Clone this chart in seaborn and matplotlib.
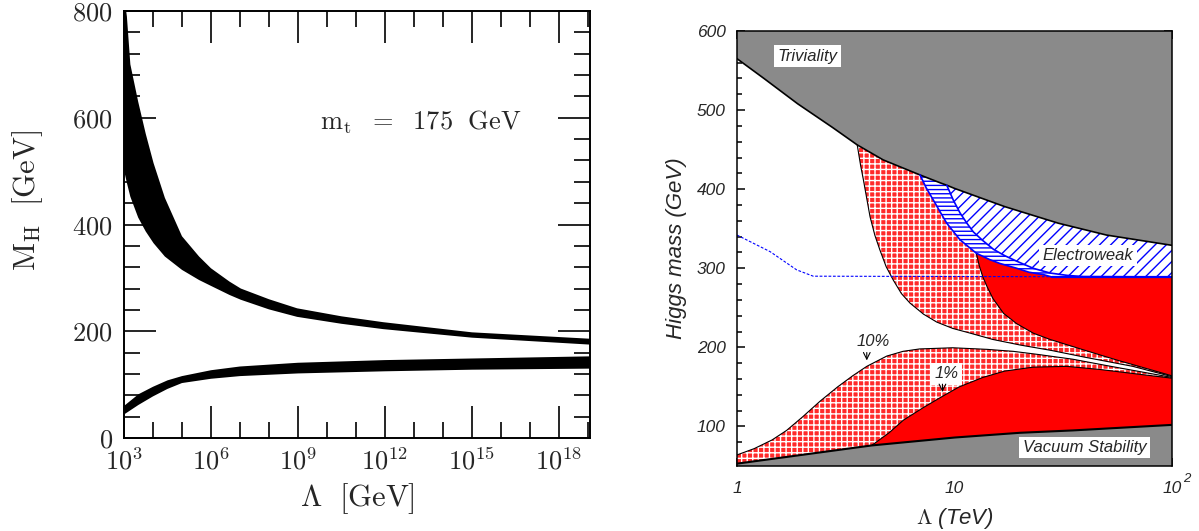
import numpy as np
import matplotlib
matplotlib.use("Agg")
import matplotlib.pyplot as plt
import matplotlib.ticker as mticker
import seaborn as sns

# ---------------- left panel: M_H bands vs Lambda (GeV), m_t = 175 GeV ----------------
# upper (triviality) band, log10(Lambda) and both edges
up_exp = [3.0, 3.1, 3.22, 3.49, 3.75, 4.02, 4.41, 5.0, 5.59, 6.0, 6.64, 7.03, 8.0, 8.97, 10.5, 11.94, 15.0, 19.07]
up_top = [830, 790, 700, 630, 570, 515, 450, 378, 340, 318, 293, 280, 260, 243, 228, 217, 198, 186]
up_bot = [502, 478, 452, 413, 387, 365, 340, 315, 296, 285, 268, 259, 241, 227, 214, 204, 188, 175]
# lower (vacuum stability) band
lo_exp = [3.0, 3.5, 4.0, 4.5, 5.0, 6.0, 7.0, 9.0, 12.0, 15.0, 19.07]
lo_top = [60, 82, 96, 108, 116, 127, 134, 141, 146, 149, 153]
lo_bot = [44, 62, 78, 92, 103, 111, 116, 121, 125, 128, 130]
left_xticks = [3, 6, 9, 12, 15, 18]
left_yticks = [0, 200, 400, 600, 800]

# ---------------- right panel: Lambda (TeV) vs Higgs mass (GeV) ----------------
triv_lam = [1, 1.33, 1.9, 2.75, 3.57, 4.7, 6.94, 8.6, 9.21, 10, 17, 30, 50, 100]
triv_mh = [565, 540, 508, 478, 456, 437, 418, 408, 405, 401, 378, 357, 342, 329]
vac_lam = [1, 4.16, 10, 20, 35, 100]
vac_mh = [53, 76, 86, 92, 95, 102]
low10_lam = [1, 1.2, 1.45, 1.69, 2.0, 2.41, 2.9, 3.4, 3.95, 4.88, 5.8, 6.9, 9.8, 14.1, 18.6, 24.3, 35, 50, 100]
low10_mh = [64, 72, 83, 95, 112, 132, 150, 164, 176, 189, 195, 198, 199.5, 197.5, 195, 191, 185, 177, 162]
low1_lam = [4.16, 5.0, 5.82, 7.2, 8.79, 10.5, 13.5, 17, 23, 32.8, 46.8, 66, 100]
low1_mh = [76, 92, 108, 124, 138, 150, 162, 170, 175, 176, 172, 167, 161]
up10_lam = [3.57, 3.7, 3.81, 3.95, 4.09, 4.3, 4.54, 4.85, 5.23, 5.7, 6.24, 7.2, 8.28, 9.8, 11.8, 15, 20, 28, 39, 66, 100]
up10_mh = [456, 430, 412, 388, 365, 342, 323, 302, 285, 268, 256, 242, 232, 224, 218, 210, 203, 196, 188, 176, 163]
up1_lam = [12.6, 13.0, 13.5, 14.1, 15, 16.8, 19.3, 23, 27.5, 39, 55.7, 100]
up1_mh = [319, 303, 289, 277, 262, 243, 230, 218, 210, 197, 184, 164]
ew_in_lam = [6.94, 7.4, 8.0, 8.6, 9.21, 10.6, 12.6, 14.5, 16.2, 19.3, 22, 25.6, 28]
ew_in_mh = [418, 402, 386, 371, 357, 336, 319, 311, 306, 300, 295, 292, 289]
ew_mid_lam = [9.21, 9.88, 10.6, 11.4, 12.2, 13.5, 15.1, 17, 19.3, 23, 27.5, 33, 39, 100]
ew_mid_mh = [405, 386, 370, 357, 346, 335, 324, 316, 309, 300, 294, 291, 289.5, 289]
ew_floor_lam = [28, 100]
ew_floor_mh = [289, 289]
dash_lam = [1, 1.42, 1.88, 2.24, 100]
dash_mh = [342, 321, 298, 290, 289]

sns.set_theme(style="ticks")
plt.rcParams["font.family"] = ["Liberation Sans", "DejaVu Sans"]
plt.rcParams["mathtext.fontset"] = "cm"
plt.rcParams["hatch.linewidth"] = 1.0
plt.rcParams["axes.linewidth"] = 1.4

fig = plt.figure(figsize=(11.99, 5.31), dpi=100)

# ===== left panel =====
ax1 = fig.add_axes([0.1034, 0.1751, 0.3887, 0.8042])
ax1.set_xscale("log")
ux = 10 ** np.array(up_exp)
ax1.fill(np.r_[ux, ux[::-1]], np.r_[up_top, up_bot[::-1]], color="black", lw=0)
lx = 10 ** np.array(lo_exp)
ax1.fill(np.r_[lx, lx[::-1]], np.r_[lo_top, lo_bot[::-1]], color="black", lw=0)
ax1.set_xlim(1e3, 10 ** 19.07)
ax1.set_ylim(0, 800)
ax1.set_xticks([10.0 ** e for e in left_xticks], [r"$10^{%d}$" % e for e in left_xticks], fontsize=19)
ax1.xaxis.set_minor_locator(mticker.LogLocator(base=10, subs=[1.0], numticks=30))
ax1.xaxis.set_minor_formatter(mticker.NullFormatter())
ax1.set_yticks(left_yticks, [r"$%d$" % v for v in left_yticks], fontsize=19)
ax1.yaxis.set_minor_locator(mticker.MultipleLocator(40))
ax1.tick_params(which="both", direction="in", top=True, right=True, width=1.2, color="black")
ax1.tick_params(which="major", length=23)
ax1.tick_params(which="minor", length=11.5)
ax1.tick_params(axis="y", pad=8)
ax1.tick_params(axis="x", pad=7)
for s in ax1.spines.values():
    s.set_color("black")
ax1.set_ylabel(r"$\mathrm{M_H\ \ [GeV]}$", fontsize=22)
ax1.yaxis.set_label_coords(-0.17, 0.557)
ax1.set_xlabel(r"$\Lambda\ \ \mathrm{[GeV]}$", fontsize=22)
ax1.xaxis.set_label_coords(0.5, -0.1)
ax1.text(10 ** 9.76, 592, r"$\mathrm{m_t\ \ =\ \ 175\ \ GeV}$", fontsize=19, va="center", ha="left")

# ===== right panel =====
ax2 = fig.add_axes([0.6147, 0.1224, 0.3628, 0.8192])
ax2.set_xscale("log")
GRAY = "#8a8a8a"
LRED = "#ff2a2a"
DRED = "#ff0000"

# light red (10%) lower and upper regions
ax2.fill(low10_lam + vac_lam[::-1], low10_mh + vac_mh[::-1], facecolor=LRED,
         edgecolor="white", hatch="+++", lw=0, zorder=1)
ax2.fill(up10_lam + [100, 3.57], up10_mh + [600, 600], facecolor=LRED,
         edgecolor="white", hatch="+++", lw=0, zorder=1)
# electroweak hatched bands
ax2.fill(ew_in_lam + [100, 100, 6.94], ew_in_mh + [289, 600, 600], facecolor="white",
         edgecolor="blue", hatch="----", lw=0, zorder=2)
ax2.fill(ew_mid_lam + [100, 9.21], ew_mid_mh + [600, 600], facecolor="white",
         edgecolor="blue", hatch="///", lw=0, zorder=3)
# dark red (1%) regions
k = ew_in_lam.index(12.6)
ax2.fill(up1_lam + [100] + ew_in_lam[k:][::-1], up1_mh + [289] + ew_in_mh[k:][::-1],
         facecolor=DRED, lw=0, zorder=4)
ax2.fill(low1_lam + vac_lam[:0:-1], low1_mh + vac_mh[:0:-1], facecolor=DRED, lw=0, zorder=4)
# excluded gray regions
ax2.fill(triv_lam + [100, 1], triv_mh + [600, 600], facecolor=GRAY, lw=0, zorder=5)
ax2.fill(vac_lam + [100, 1], vac_mh + [50, 50], facecolor=GRAY, lw=0, zorder=5)

# boundary lines
for lam, mh, c, w in [(low10_lam, low10_mh, "black", 0.8), (low1_lam, low1_mh, "black", 0.8),
                      (up10_lam, up10_mh, "black", 0.8), (up1_lam, up1_mh, "black", 0.8),
                      (triv_lam, triv_mh, "black", 1.2), (vac_lam, vac_mh, "black", 1.5),
                      (ew_in_lam, ew_in_mh, "blue", 1.2), (ew_mid_lam, ew_mid_mh, "blue", 1.2),
                      (ew_floor_lam, ew_floor_mh, "blue", 1.6)]:
    sns.lineplot(x=lam, y=mh, color=c, lw=w, ax=ax2, zorder=6, sort=False)
sns.lineplot(x=dash_lam, y=dash_mh, color="blue", lw=0.8, ax=ax2, zorder=6, sort=False,
             dashes=False, linestyle=(0, (2.5, 1.5)))

ax2.set_xlim(1, 100)
ax2.set_ylim(50, 600)
ax2.set_xticks([1, 10, 100], ["1", "10", "10"], fontsize=12.5, fontstyle="italic")
ax2.xaxis.set_minor_locator(mticker.LogLocator(base=10, subs=np.arange(2, 10), numticks=20))
ax2.xaxis.set_minor_formatter(mticker.NullFormatter())
ax2.annotate("2", xy=(100, 50), xytext=(8, -9), textcoords="offset points",
             fontsize=9.5, fontstyle="italic", ha="left", va="center", annotation_clip=False)
ax2.set_yticks([100, 200, 300, 400, 500, 600], ["100", "200", "300", "400", "500", "600"],
               fontsize=12.5, fontstyle="italic")
ax2.yaxis.set_minor_locator(mticker.MultipleLocator(20))
ax2.tick_params(which="both", direction="in", top=True, right=True, width=1.1, color="black")
ax2.tick_params(which="major", length=6)
ax2.tick_params(which="minor", length=3.5)
ax2.tick_params(axis="y", pad=8)
ax2.tick_params(axis="x", pad=11)
for s in ax2.spines.values():
    s.set_color("black")
    s.set_linewidth(1.1)
    s.set_zorder(10)
ax2.set_ylabel("Higgs mass (GeV)", fontsize=16, fontstyle="italic")
ax2.yaxis.set_label_coords(-0.115, 0.5)
ax2.set_xlabel(r"$\Lambda$ (TeV)", fontsize=16, fontstyle="italic")
ax2.xaxis.set_label_coords(0.5, -0.092)

box = dict(boxstyle="square,pad=0.2", facecolor="white", edgecolor="none")
ax2.text(2.11, 568, "Triviality", fontsize=12, fontstyle="italic", ha="center", va="center",
         bbox=box, zorder=8)
ax2.text(41, 316, "Electroweak", fontsize=12, fontstyle="italic", ha="center", va="center",
         bbox=box, zorder=8)
ax2.text(39.6, 73.5, "Vacuum Stability", fontsize=12, fontstyle="italic", ha="center",
         va="center", bbox=box, zorder=8)
ax2.text(4.23, 207, "10%", fontsize=12, fontstyle="italic", ha="center", va="center", zorder=8)
ax2.annotate("", xy=(3.95, 180), xytext=(3.95, 197),
             arrowprops=dict(arrowstyle="->", lw=0.8, color="black"), zorder=8)
ax2.text(9.2, 166.4, "1%", fontsize=12, fontstyle="italic", ha="center", va="center",
         bbox=box, zorder=8)
ax2.annotate("", xy=(8.8, 140), xytext=(8.8, 157),
             arrowprops=dict(arrowstyle="->", lw=0.8, color="black"), zorder=8)

fig.savefig("out.png", dpi=100)
